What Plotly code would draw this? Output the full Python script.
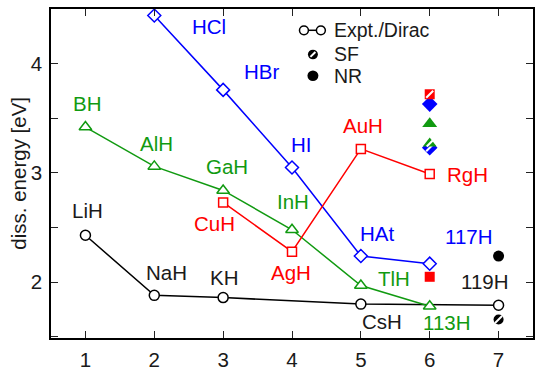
import plotly.graph_objects as go

# ---------------- data ----------------
x_black = [1, 2, 3, 5, 7]
y_black = [2.43, 1.88, 1.86, 1.80, 1.79]
lab_black = ["LiH", "NaH", "KH", "CsH", "119H"]

x_blue = [2, 3, 4, 5, 6]
y_blue = [4.44, 3.76, 3.05, 2.24, 2.17]
lab_blue = ["HCl", "HBr", "HI", "HAt", "117H"]

x_green = [1, 2, 3, 4, 5, 6]
y_green = [3.42, 3.06, 2.84, 2.48, 1.97, 1.78]
lab_green = ["BH", "AlH", "GaH", "InH", "TlH", "113H"]

x_red = [3, 4, 5, 6]
y_red = [2.73, 2.28, 3.22, 2.99]
lab_red = ["CuH", "AgH", "AuH", "RgH"]

# SF (hatched) and NR (filled) values for superheavy hydrides
sf_red_x, sf_red_y = [6], [3.72]
sf_blue_x, sf_blue_y = [6], [3.23]
sf_green_x, sf_green_y = [6], [3.27]
sf_black_x, sf_black_y = [7], [1.66]

nr_red_x, nr_red_y = [6], [2.05]
nr_blue_x, nr_blue_y = [6], [3.63]
nr_green_x, nr_green_y = [6], [3.45]
nr_black_x, nr_black_y = [7], [2.24]

# ---------------- style ----------------
BLACK = "#000000"
BLUE = "#0000ff"
GREEN = "#119a11"
RED = "#ff0000"
TXT = "#1a1a1a"
FONT = "Liberation Sans, Arial, Helvetica, sans-serif"
FS = 20.5

# label offsets (pixels)
off_black = [(2, 25), (12, 23), (1, 20), (21, -17), (-14, 24)]
off_blue = [(55, -11), (38, 18), (9, 23), (16, 23), (39, 27)]
off_green = [(2, 24), (2, 23), (4, 24), (1, 28), (33, 7), (17, -16)]
off_red = [(-9, -21), (-1, -21), (2, 23), (38, 0)]

fig = go.Figure()

def series(x, y, color, symbol, size):
    fig.add_trace(go.Scatter(
        x=x, y=y, mode="lines+markers",
        line=dict(color=color, width=1.5),
        marker=dict(symbol=symbol, size=size, color="white",
                    line=dict(color=color, width=1.5)),
        showlegend=False, hoverinfo="skip"))

series(x_black, y_black, BLACK, "circle", 10)
series(x_blue, y_blue, BLUE, "diamond", 10)
series(x_green, y_green, GREEN, "triangle-up", 11)
series(x_red, y_red, RED, "square", 9)

def filled(x, y, color, symbol, size):
    fig.add_trace(go.Scatter(
        x=x, y=y, mode="markers",
        marker=dict(symbol=symbol, size=size, color=color,
                    line=dict(color=color, width=0)),
        showlegend=False, hoverinfo="skip"))

def hatched(x, y, color, symbol, size, hsize):
    filled(x, y, color, symbol, size)
    fig.add_trace(go.Scatter(
        x=x, y=y, mode="markers",
        marker=dict(symbol="line-ne", size=hsize,
                    line=dict(color="white", width=2)),
        showlegend=False, hoverinfo="skip"))

# NR
filled(nr_red_x, nr_red_y, RED, "square", 10)
filled(nr_blue_x, nr_blue_y, BLUE, "diamond", 12)
filled(nr_green_x, nr_green_y, GREEN, "triangle-up", 13)
filled(nr_black_x, nr_black_y, BLACK, "circle", 11)
# SF
hatched(sf_red_x, sf_red_y, RED, "square", 10, 7)
hatched(sf_blue_x, sf_blue_y, BLUE, "diamond", 12, 7)
hatched(sf_green_x, sf_green_y, GREEN, "triangle-up", 12, 6)
hatched(sf_black_x, sf_black_y, BLACK, "circle", 10, 7)

# labels
annotations = []
for xs, ys, labs, offs, col in [
    (x_black, y_black, lab_black, off_black, TXT),
    (x_blue, y_blue, lab_blue, off_blue, BLUE),
    (x_green, y_green, lab_green, off_green, GREEN),
    (x_red, y_red, lab_red, off_red, RED),
]:
    for xv, yv, t, (dx, dy) in zip(xs, ys, labs, offs):
        annotations.append(dict(
            x=xv, y=yv, xref="x", yref="y", text=t, showarrow=False,
            xshift=dx, yshift=dy, font=dict(family=FONT, size=FS, color=col),
            xanchor="center", yanchor="middle"))

# plot-area geometry (pixels)
W, H = 535, 371
ML, MR, MT, MB = 51, 0, 9, 22
PW = W - ML - MR
PH = H - MT - MB

def fx(px):
    return (px - ML) / PW

def fy(py):
    return (H - MB - py) / PH

# y-axis title
annotations.append(dict(
    x=fx(18), y=fy(179), xref="paper", yref="paper", text="diss. energy [eV]",
    showarrow=False, textangle=-90, xanchor="center", yanchor="middle",
    font=dict(family=FONT, size=FS, color=TXT)))

# legend texts
for txt, py in [("Expt./Dirac", 31), ("SF", 56), ("NR", 78)]:
    annotations.append(dict(
        x=fx(333), y=fy(py), xref="paper", yref="paper", text=txt,
        showarrow=False, xanchor="left", yanchor="middle",
        font=dict(family=FONT, size=19.5, color=TXT)))

def pcircle(cx, cy, r, fill, line_w):
    return dict(type="circle", xref="paper", yref="paper",
                x0=fx(cx - r), x1=fx(cx + r), y0=fy(cy + r), y1=fy(cy - r),
                fillcolor=fill, line=dict(color=BLACK, width=line_w))

shapes = [
    dict(type="line", xref="paper", yref="paper",
         x0=fx(305), x1=fx(322), y0=fy(31), y1=fy(31),
         line=dict(color=BLACK, width=1.5)),
    pcircle(305, 31, 4.5, "white", 1.5),
    pcircle(322, 31, 4.5, "white", 1.5),
    pcircle(314, 56, 5, BLACK, 0),
    dict(type="line", xref="paper", yref="paper",
         x0=fx(311.5), x1=fx(316.5), y0=fy(58.5), y1=fy(53.5),
         line=dict(color="white", width=2)),
    pcircle(314, 78, 5.5, BLACK, 0),
]

axis_common = dict(
    showline=True, linecolor=BLACK, linewidth=1.5, mirror="allticks",
    ticks="inside", ticklen=7, tickwidth=1.3, tickcolor="#222222",
    showgrid=False, zeroline=False, ticklabelstandoff=3,
    tickfont=dict(family=FONT, size=FS, color=TXT))

fig.update_layout(
    width=W, height=H,
    margin=dict(l=ML, r=MR, t=MT, b=MB),
    paper_bgcolor="white", plot_bgcolor="white",
    xaxis=dict(range=[0.5, 7.5], tickmode="linear", tick0=0, dtick=1,
               **axis_common),
    yaxis=dict(range=[1.49, 4.5], tickmode="linear", tick0=0, dtick=1,
               minor=dict(dtick=0.5, tick0=0, ticks="inside", ticklen=7,
                          tickwidth=1.3, tickcolor="#222222", showgrid=False),
               **axis_common),
    annotations=annotations, shapes=shapes,
    showlegend=False,
)

fig.write_html("out.html")
